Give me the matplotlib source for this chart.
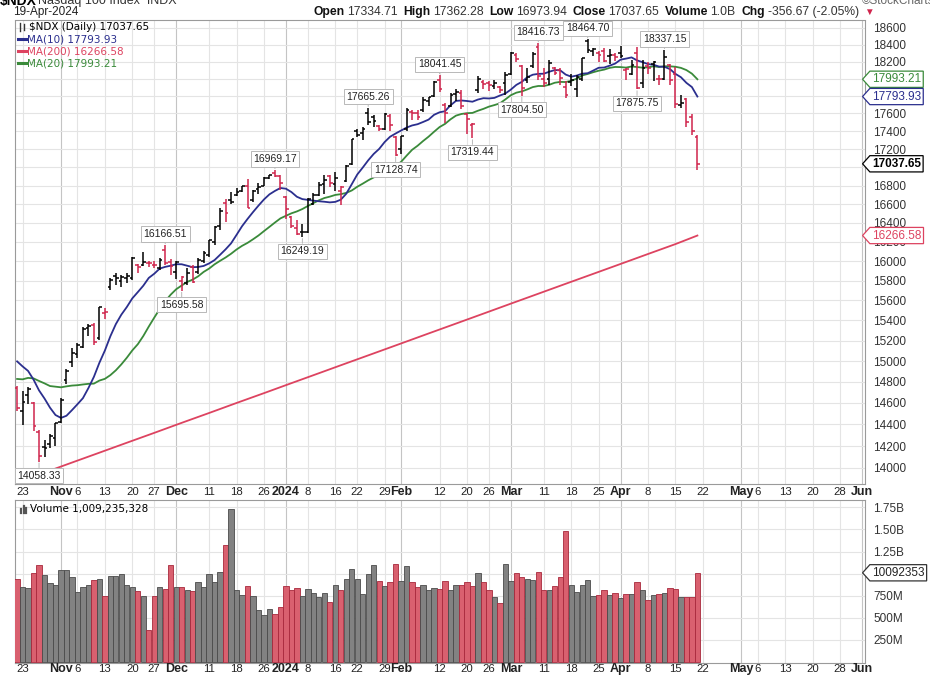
import numpy as np
import pandas as pd
import matplotlib
matplotlib.use("Agg")
import matplotlib.pyplot as plt
import matplotlib.transforms as mtransforms
from matplotlib.path import Path
from matplotlib.lines import Line2D
from matplotlib.ticker import FixedLocator, NullLocator, FuncFormatter

plt.rcParams["font.family"] = ["Liberation Sans", "DejaVu Sans"]

W, H = 930, 675

# ── data: $NDX daily, Oct 20 2023 .. Apr 19 2024 ──
# closes before the window, only used to seed the 10/20-day averages
PRIOR_CLOSE = [14680, 14460, 14480, 14600, 14640, 14800, 14530, 14750, 14720, 14930,
               15090, 15170, 15220, 15140, 14950, 15150, 15100, 14900, 14700]

OPEN = [14745, 14520, 14680, 14600, 14330, 14190, 14220, 14270, 14420, 14820,
        14990, 15070, 15140, 15320, 15350, 15230, 15470, 15740, 15850, 15800,
        15830, 15830, 15960, 15960, 15985, 15960, 15930, 16120, 15990, 15890,
        15800, 15780, 15940, 15890, 16000, 16060, 16200, 16370, 16610, 16640,
        16700, 16740, 16800, 16640, 16760, 16790, 16880, 16940, 16900, 16680,
        16460, 16350, 16300, 16300, 16600, 16700, 16820, 16900, 16820, 16740,
        16850, 17030, 17400, 17380, 17600, 17560, 17460, 17420, 17570, 17330,
        17200, 17420, 17620, 17610, 17640, 17740, 17800, 17990, 17700, 17690,
        17820, 17840, 17590, 17470, 17870, 17960, 17950, 17910, 17900, 17950,
        18060, 18280, 18150, 17980, 18150, 18370, 18000, 18000, 18130, 18100,
        17900, 17960, 17880, 18000, 18440, 18320, 18300, 18320, 18260, 18280,
        18300, 18100, 18050, 18300, 17950, 18150, 18170, 18000, 18000, 18160,
        18060, 17700, 17760, 17560, 17334.71]
HIGH = [14760, 14710, 14750, 14605, 14345, 14255, 14310, 14410, 14650, 14925,
        15125, 15180, 15335, 15360, 15370, 15535, 15525, 15830, 15880, 15860,
        15880, 16045, 15975, 16090, 16000, 16000, 16030, 16166.51, 16020, 16000,
        15850, 15930, 15960, 16030, 16100, 16225, 16365, 16560, 16650, 16730,
        16770, 16800, 16870, 16750, 16830, 16890, 16920, 16969.17, 16920, 16685,
        16470, 16430, 16390, 16670, 16720, 16840, 16920, 16920, 16950, 16790,
        17020, 17315, 17420, 17450, 17665.26, 17580, 17470, 17605, 17590, 17350,
        17350, 17665, 17640, 17640, 17790, 17790, 17970, 18041.45, 17720, 17830,
        17880, 17870, 17600, 17490, 18030, 17980, 17970, 17990, 17920, 18080,
        18310, 18300, 18160, 18125, 18310, 18416.73, 18125, 18220, 18140, 18120,
        17970, 18060, 18040, 18245, 18464.70, 18355, 18320, 18360, 18350, 18300,
        18380, 18125, 18220, 18370, 18220, 18200, 18210, 18040, 18337.15, 18170,
        18140, 17810, 17780, 17590, 17362.28]
LOW = [14520, 14395, 14590, 14335, 14058.33, 14100, 14180, 14200, 14410, 14780,
       14940, 15030, 15130, 15250, 15160, 15210, 15410, 15700, 15760, 15740,
       15780, 15810, 15880, 15950, 15940, 15930, 15910, 15960, 15860, 15820,
       15695.58, 15760, 15780, 15870, 15980, 16040, 16170, 16320, 16410, 16600,
       16690, 16730, 16555, 16620, 16710, 16790, 16870, 16890, 16750, 16440,
       16345, 16270, 16249.19, 16290, 16590, 16690, 16710, 16780, 16740, 16590,
       16840, 17020, 17330, 17300, 17470, 17450, 17400, 17410, 17400, 17128.74,
       17150, 17400, 17530, 17530, 17620, 17680, 17790, 17850, 17490, 17670,
       17740, 17650, 17370, 17319.44, 17840, 17880, 17860, 17880, 17830, 17810,
       18040, 18200, 17804.50, 17950, 18130, 17980, 17900, 17930, 18040, 17930,
       17780, 17920, 17790, 17970, 18300, 18270, 18190, 18190, 18170, 18210,
       18240, 17990, 18040, 17875.75, 17890, 18060, 17970, 17930, 17980, 17930,
       17660, 17660, 17450, 17360, 16973.94]
CLOSE = [14555, 14605, 14735, 14385, 14110, 14180, 14290, 14410, 14630, 14900,
         15080, 15160, 15310, 15340, 15185, 15530, 15480, 15810, 15830, 15840,
         15845, 16030, 15940, 15990, 15980, 15960, 16010, 15985, 15948, 15995,
         15840, 15880, 15790, 16010, 16085, 16220, 16360, 16530, 16510, 16620,
         16730, 16790, 16560, 16740, 16780, 16880, 16910, 16900, 16826, 16544,
         16368, 16282, 16305, 16660, 16700, 16810, 16860, 16830, 16880, 16780,
         17010, 17310, 17360, 17420, 17500, 17515, 17420, 17596, 17475, 17137,
         17345, 17640, 17600, 17560, 17750, 17783, 17963, 17883, 17600, 17810,
         17850, 17686, 17540, 17480, 17997, 17940, 17930, 17950, 17870, 18044,
         18302, 18228, 17892, 18020, 18288, 18036, 17950, 18180, 18065, 18010,
         17808, 17985, 18020, 18240, 18340, 18345, 18280, 18210, 18280, 18255,
         18270, 18110, 18160, 17890, 18130, 18120, 18200, 18000, 18250, 17990,
         17710, 17720, 17505, 17405, 17037.65]
VOLUME_B = [0.94, 0.85, 0.84, 1.01, 1.10, 0.98, 0.89, 0.87, 1.04, 1.04,
            0.96, 0.79, 0.85, 0.87, 0.93, 0.94, 0.75, 0.97, 0.97, 0.99,
            0.87, 0.85, 0.80, 0.75, 0.36, 0.75, 0.85, 0.83, 1.10, 0.85,
            0.85, 0.81, 0.80, 0.91, 0.85, 0.99, 0.90, 1.02, 1.32, 1.73,
            0.81, 0.76, 0.86, 0.75, 0.59, 0.53, 0.60, 0.54, 0.62, 0.86,
            0.81, 0.84, 0.75, 0.83, 0.78, 0.73, 0.78, 0.68, 0.87, 0.82,
            0.94, 1.05, 0.94, 0.77, 0.99, 1.10, 0.92, 0.86, 0.90, 1.11,
            0.92, 1.09, 0.91, 0.85, 0.87, 0.81, 0.84, 0.83, 0.92, 0.81,
            0.87, 0.87, 0.90, 0.86, 1.01, 0.91, 0.81, 0.73, 0.67, 1.11,
            0.92, 1.01, 0.96, 0.94, 0.93, 1.02, 0.81, 0.81, 0.86, 0.96,
            1.48, 0.87, 0.79, 0.87, 0.93, 0.75, 0.76, 0.81, 0.76, 0.78,
            0.72, 0.77, 0.77, 0.91, 0.82, 0.70, 0.76, 0.77, 0.78, 0.84,
            0.83, 0.73, 0.73, 0.73, 1.009235328]

# 200-day average, read every 5th session
MA200_IDX = [0, 5, 10, 15, 20, 25, 30, 35, 40, 45, 50, 55, 60, 65, 70, 75, 80,
             85, 90, 95, 100, 105, 110, 115, 120, 124]
MA200_VAL = [13870, 13959, 14049, 14139, 14230, 14321, 14414, 14506, 14600, 14693,
             14788, 14883, 14979, 15075, 15172, 15270, 15368, 15467, 15567, 15667,
             15768, 15869, 15971, 16074, 16177, 16266.58]

# session index of each date label (0 = Oct 20 2023)
TICK_IDX = [1, 8, 11, 16, 21, 25, 29, 35, 40, 45, 49, 53, 58, 62, 67, 70, 77, 82,
            86, 90, 96, 101, 106, 110, 115, 120, 125, 132, 135, 140, 145, 150, 154]
TICK_TEXT = ["23", "Nov", "6", "13", "20", "27", "Dec", "11", "18", "26", "2024",
             "8", "16", "22", "29", "Feb", "12", "20", "26", "Mar", "11", "18",
             "25", "Apr", "8", "15", "22", "May", "6", "13", "20", "28", "Jun"]
MONTHS = {"Nov", "Dec", "2024", "Feb", "Mar", "Apr", "May", "Jun"}

HIGH_MARKS = [27, 47, 64, 77, 95, 104, 118]
LOW_MARKS = [4, 30, 52, 69, 83, 92, 113]

PRICE_TICKS = list(range(14000, 18601, 200))
PRICE_HIDDEN = {18000, 17800, 17000}        # covered by the value tags
VOL_TICKS = [0.25, 0.5, 0.75, 1.0, 1.25, 1.5, 1.75]

NAVY, GREEN, CRIMSON = "#2b2f8e", "#3a8a3a", "#dd4360"
RED_BAR = "#d0244c"

# ── derived series ───────────────────────────────────────────────
x = np.arange(len(CLOSE))
allc = pd.Series(PRIOR_CLOSE + CLOSE)
ma10 = allc.rolling(10).mean().values[len(PRIOR_CLOSE):]
ma20 = allc.rolling(20).mean().values[len(PRIOR_CLOSE):]
prev = np.r_[PRIOR_CLOSE[-1], CLOSE[:-1]]
up = np.array(CLOSE) >= prev


def fx(px):
    return px / W


def fy(py):
    return 1 - py / H


def tag_box(x0, y0, width, height, mutation_size):
    pad = 0.18 * mutation_size
    x0, y0 = x0 - pad, y0 - pad
    x1, y1 = x0 + width + 2 * pad, y0 + height + 2 * pad
    tip = 0.45 * (y1 - y0)
    return Path([(x0, y0), (x1, y0), (x1, y1), (x0, y1),
                 (x0 - tip, (y0 + y1) / 2), (x0, y0), (x0, y0)], closed=True)


fig = plt.figure(figsize=(W / 100, H / 100), dpi=100)
ax_p = fig.add_axes([fx(15), fy(484), fx(850), 464 / H])
ax_v = fig.add_axes([fx(15), fy(663), fx(850), 163 / H])

XMIN, XMAX = -0.38, 154.55
for ax in (ax_p, ax_v):
    ax.set_xlim(XMIN, XMAX)
    ax.tick_params(axis="x", length=0, labelbottom=False)
    ax.yaxis.tick_right()
    ax.tick_params(axis="y", length=0, pad=6, labelsize=8.5, labelcolor="#333333")
    for s in ax.spines.values():
        s.set_color("#9a9a9a")
        s.set_linewidth(0.8)
        s.set_linestyle((0, (1, 1)))
    for i, t in zip(TICK_IDX, TICK_TEXT):
        if XMIN < i < XMAX:
            ax.axvline(i, color="#c4c4c4" if t in MONTHS else "#e4e4e4", lw=0.8, zorder=0)

# ── price panel ──────────────────────────────────────────────────
ax_p.set_yscale("log")
ax_p.set_ylim(13856, 18695)
ax_p.yaxis.set_major_locator(FixedLocator(PRICE_TICKS))
ax_p.yaxis.set_minor_locator(NullLocator())
ax_p.yaxis.set_major_formatter(FuncFormatter(
    lambda v, p: "" if round(v) in PRICE_HIDDEN else f"{v:.0f}"))
for v in PRICE_TICKS:
    ax_p.axhline(v, color="#e4e4e4", lw=0.8, zorder=0)

cols = np.where(up, "#000000", RED_BAR)
ax_p.vlines(x, LOW, HIGH, colors=cols, lw=1.1, zorder=3)
ax_p.hlines(OPEN, x - 0.5, x, colors=cols, lw=1.1, zorder=3)
ax_p.hlines(CLOSE, x, x + 0.5, colors=cols, lw=1.1, zorder=3)

ax_p.plot(MA200_IDX, MA200_VAL, color=CRIMSON, lw=1.3, zorder=2)
ax_p.plot(x, ma20, color=GREEN, lw=1.3, zorder=2)
ax_p.plot(x, ma10, color=NAVY, lw=1.3, zorder=2)

box = dict(boxstyle="square,pad=0.25", fc="white", ec="#b8b8b8", lw=0.7)
arr = dict(arrowstyle="-", color="#b8b8b8", lw=0.7, shrinkA=0, shrinkB=1)
for i in HIGH_MARKS:
    ax_p.annotate(f"{HIGH[i]:.2f}", xy=(i, HIGH[i]), xytext=(0, 11), textcoords="offset pixels",
                  ha="center", va="center", fontsize=7.5, color="#222222", bbox=box,
                  arrowprops=arr, zorder=6)
for i in LOW_MARKS:
    ax_p.annotate(f"{LOW[i]:.2f}", xy=(i, LOW[i]), xytext=(0, -14), textcoords="offset pixels",
                  ha="center", va="center", fontsize=7.5, color="#222222", bbox=box,
                  arrowprops=arr, zorder=6)

tag_p = mtransforms.blended_transform_factory(ax_p.transAxes, ax_p.transData) + \
    mtransforms.ScaledTranslation(0.07, 0, fig.dpi_scale_trans)
for val, txt, c, wt in [(ma20[-1], "17993.21", GREEN, "normal"),
                        (ma10[-1], "17793.93", NAVY, "normal"),
                        (CLOSE[-1], "17037.65", "#000000", "bold"),
                        (MA200_VAL[-1], "16266.58", CRIMSON, "normal")]:
    ax_p.text(1.0, val, txt, transform=tag_p, ha="left", va="center", fontsize=8.5,
              color=c, fontweight=wt, clip_on=False, zorder=10,
              bbox=dict(boxstyle=tag_box, fc="white", ec=c, lw=0.9))

# ── volume panel ─────────────────────────────────────────────────
ax_v.set_ylim(-0.0113, 1.8326)
ax_v.yaxis.set_major_locator(FixedLocator(VOL_TICKS))
ax_v.yaxis.set_major_formatter(FuncFormatter(
    lambda v, p: "" if v == 1.0 else (f"{v:.2f}B" if v > 1 else f"{v * 1000:.0f}M")))
for v in VOL_TICKS:
    ax_v.axhline(v, color="#e4e4e4", lw=0.8, zorder=0)
ax_v.bar(x, VOLUME_B, width=0.97, color=np.where(up, "#828282", "#d9606f"),
         edgecolor=np.where(up, "#4a4a4a", "#a8283c"), lw=0.6, zorder=3)

tag_v = mtransforms.blended_transform_factory(ax_v.transAxes, ax_v.transData) + \
    mtransforms.ScaledTranslation(0.07, 0, fig.dpi_scale_trans)
ax_v.text(1.0, VOLUME_B[-1], "10092353", transform=tag_v, ha="left", va="center",
          fontsize=8.5, color="#222222", clip_on=False, zorder=10,
          bbox=dict(boxstyle=tag_box, fc="white", ec="#333333", lw=0.9))

# ── date rows ────────────────────────────────────────────────────
tr = mtransforms.blended_transform_factory(ax_p.transData, fig.transFigure)
for row_y in (492, 669):
    for i, t in zip(TICK_IDX, TICK_TEXT):
        m = t in MONTHS
        fig.text(i, fy(row_y), t, transform=tr, ha="center", va="center",
                 fontsize=9 if m else 8.2, fontweight="bold" if m else "normal",
                 color="#222222")

# ── header and legends ───────────────────────────────────────────
fig.text(fx(0), fy(1), "$NDX", fontsize=10, fontweight="bold", va="center")
fig.text(fx(38), fy(1), "Nasdaq 100 Index  INDX", fontsize=9, va="center", color="#333333")
fig.text(fx(862), fy(1), "\u00a9StockCharts.com", fontsize=8.5, va="center", color="#666666")
fig.text(fx(13), fy(12), "19-Apr-2024", fontsize=8.5, va="center", color="#222222")

# quote line: lay pieces out one after another, then fit them into x 313..858
hdr = [("Open", True), ("17334.71", False), ("High", True), ("17362.28", False),
       ("Low", True), ("16973.94", False), ("Close", True), ("17037.65", False),
       ("Volume", True), ("1.0B", False), ("Chg", True), ("-356.67 (-2.05%)", False)]
renderer = fig.canvas.get_renderer()
arts = [fig.text(0, fy(12), t, fontsize=9, va="center", fontweight="bold" if b else "normal",
                 color="#111111" if b else "#333333") for t, b in hdr]
widths = [a.get_window_extent(renderer).width for a in arts]
gaps = [3 if b else 6 for _, b in hdr]
scale = (858 - 313) / (sum(widths) + sum(gaps[:-1]))
cur = 313.0
for a, w, g in zip(arts, widths, gaps):
    a.set_fontsize(9 * min(scale, 1.1))
    a.set_x(fx(cur))
    cur += (w + g) * min(scale, 1.1)
fig.text(fx(864), fy(12), "\u25bc", fontsize=7, va="center", color=RED_BAR)

leg = ["DejaVu Sans"]
fig.text(fx(29), fy(27), "$NDX (Daily) 17037.65", fontsize=7.5, family=leg, va="center")
for yy, t, c in [(39, "MA(10) 17793.93", NAVY), (51, "MA(200) 16266.58", CRIMSON),
                 (63, "MA(20) 17993.21", GREEN)]:
    fig.add_artist(Line2D([fx(18), fx(26)], [fy(yy), fy(yy)], color=c, lw=2.2))
    fig.text(fx(27), fy(yy), t, fontsize=7.5, family=leg, va="center", color=c)
# small bar icons
for xx, y0, y1 in [(20, 23, 31), (24, 24, 30)]:
    fig.add_artist(Line2D([fx(xx), fx(xx)], [fy(y0), fy(y1)], color="#333333", lw=1))
for xx, y0 in [(21, 509), (23.5, 506), (26, 508)]:
    fig.add_artist(Line2D([fx(xx), fx(xx)], [fy(y0), fy(513)], color="#555555", lw=1.6))
fig.text(fx(30), fy(509), "Volume 1,009,235,328", fontsize=7.5, family=leg, va="center")

fig.savefig("out.png", dpi=100, facecolor="white")
